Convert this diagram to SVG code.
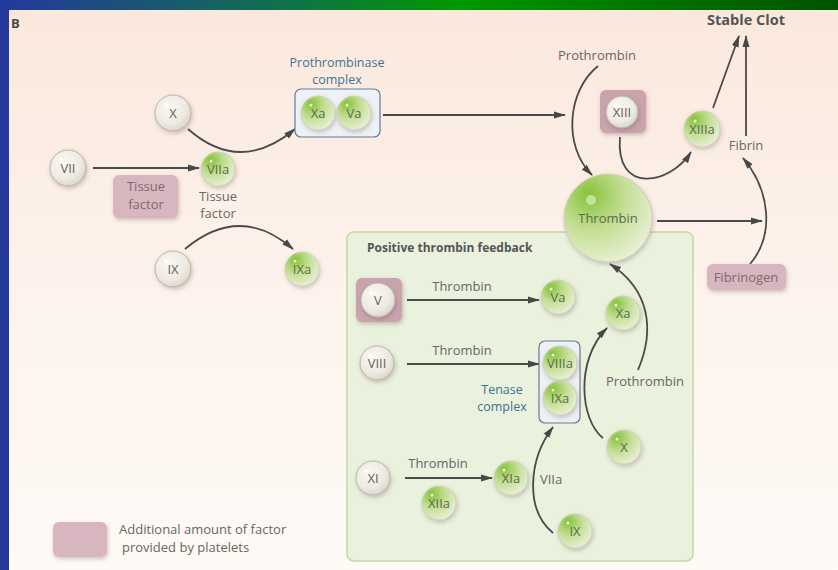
<svg xmlns="http://www.w3.org/2000/svg" width="838" height="570" viewBox="0 0 838 570">
<defs>
<linearGradient id="topbar" x1="0" y1="0" x2="1" y2="0">
<stop offset="0" stop-color="#24399b"/>
<stop offset="0.3" stop-color="#136a58"/>
<stop offset="0.55" stop-color="#009800"/>
<stop offset="0.8" stop-color="#007000"/>
<stop offset="1" stop-color="#005300"/>
</linearGradient>
<linearGradient id="panel" x1="0" y1="0" x2="0" y2="1">
<stop offset="0" stop-color="#fbe8dd"/>
<stop offset="0.5" stop-color="#fdf3ec"/>
<stop offset="1" stop-color="#fefaf6"/>
</linearGradient>
<radialGradient id="gray" cx="0.4" cy="0.35" r="0.7">
<stop offset="0" stop-color="#faf8f4"/>
<stop offset="0.65" stop-color="#eeeae2"/>
<stop offset="1" stop-color="#d8d2c7"/>
</radialGradient>
<radialGradient id="green" cx="0.35" cy="0.3" r="0.85" fx="0.28" fy="0.22">
<stop offset="0" stop-color="#86c23a"/>
<stop offset="0.45" stop-color="#c3de94"/>
<stop offset="1" stop-color="#f2f5e4"/>
</radialGradient>
<filter id="sh" x="-30%" y="-30%" width="160%" height="160%">
<feDropShadow dx="1" dy="2" stdDeviation="2" flood-color="#5a4a40" flood-opacity="0.3"/>
</filter>
<marker id="ah" viewBox="0 0 12 8" refX="11" refY="4" markerWidth="12" markerHeight="8" markerUnits="userSpaceOnUse" orient="auto">
<path d="M0,0.5 L12,4 L0,7.5 Z" fill="#474747"/>
</marker>
<style>
text{font-family:"Open Sans","Noto Sans",sans-serif;}
.g{fill:url(#gray);stroke:#b9b3a9;stroke-width:1;filter:url(#sh);}
.gr{fill:url(#green);stroke:#cfcfbf;stroke-width:1;filter:url(#sh);}
.hl{fill:#ffffff;opacity:0.85;}
.ct{font-size:13px;fill:#666058;text-anchor:middle;}
.cgt{font-size:13px;fill:#5c6a4c;text-anchor:middle;}
.lbl{font-size:13px;fill:#6a6664;text-anchor:middle;}
.blue{font-size:12.5px;fill:#3f7392;text-anchor:middle;}
.pink{fill:#d8b6bf;filter:url(#sh);}
.pinkd{fill:#c9a4ae;filter:url(#sh);}
.pt{font-size:13px;fill:#7b6c70;text-anchor:middle;}
.arr{fill:none;stroke:#4a4a4a;stroke-width:1.8;marker-end:url(#ah);}
.cplx{fill:#eef2f6;stroke:#5f7d99;stroke-width:1.2;}
</style>
</defs>

<rect x="0" y="0" width="838" height="570" fill="#24399b"/>
<rect x="0" y="0" width="838" height="10" fill="url(#topbar)"/>
<rect x="9" y="10" width="829" height="560" fill="url(#panel)"/>

<text x="11" y="28" font-size="13" font-weight="bold" fill="#4a4a4a">B</text>
<text x="746" y="25" font-size="14.5" font-weight="bold" fill="#555" text-anchor="middle">Stable Clot</text>

<!-- feedback box -->
<g id="feedback-box">
<rect x="347" y="232" width="346" height="329" rx="7" fill="#eaf1dd" stroke="#c4da9e" stroke-width="1.5"/>
<text x="367" y="252" font-size="12" font-weight="bold" fill="#555">Positive thrombin feedback</text>
</g>

<!-- connectors -->
<g id="connectors">
<path class="arr" d="M188,129 Q240,175 295,129"/>
<path class="arr" d="M93,168 L199,168"/>
<path class="arr" d="M185,249 Q240,203 293,249"/>
<path class="arr" d="M383,115 L565,115"/>
<path class="arr" d="M598,66 C568,90 562,145 592,175"/>
<path class="arr" d="M620,137 C615,195 670,185 691,152"/>
<path class="arr" d="M713,108 L739,36"/>
<path class="arr" d="M746,136 L746,36"/>
<path class="arr" d="M657,221 L762,221"/>
<path class="arr" d="M750,264 C775,235 770,190 743,158"/>
<path class="arr" d="M407,300 L539,300"/>
<path class="arr" d="M407,364 L539,364"/>
<path class="arr" d="M405,478 L492,478"/>
<path class="arr" d="M603,438 C580,420 575,360 607,328"/>
<path class="arr" d="M638,370 C655,330 650,290 610,264"/>
<path class="arr" d="M553,533 C525,510 528,460 553,427"/>
</g>

<!-- labels -->
<g id="labels">
<text class="blue" x="337" y="66.5">Prothrombinase</text>
<text class="blue" x="337" y="84">complex</text>
<text class="lbl" x="218" y="200.5" font-size="12">Tissue</text>
<text class="lbl" x="218" y="217.5" font-size="12">factor</text>
<text class="lbl" x="597" y="60">Prothrombin</text>
<text class="lbl" x="746" y="150">Fibrin</text>
<text class="lbl" x="462" y="291">Thrombin</text>
<text class="lbl" x="462" y="355">Thrombin</text>
<text class="lbl" x="438" y="468">Thrombin</text>
<text class="blue" x="502" y="394" font-size="12">Tenase</text>
<text class="blue" x="502" y="411" font-size="12">complex</text>
<text class="lbl" x="645" y="386">Prothrombin</text>
<text class="lbl" x="551" y="484">VIIa</text>
</g>

<g id="node-X"><circle class="g" cx="173" cy="113" r="18"/><circle class="hl" cx="166" cy="105" r="2"/><text class="ct" x="173" y="117.5">X</text></g>
<g id="node-VII"><circle class="g" cx="68" cy="168" r="18"/><circle class="hl" cx="61" cy="160" r="2"/><text class="ct" x="68" y="172.5">VII</text></g>
<g id="node-VIIa"><circle class="gr" cx="218" cy="169" r="17"/><circle class="hl" cx="211" cy="161" r="1.5"/><text class="cgt" x="218" y="173.5">VIIa</text></g>
<g id="node-tissue-factor"><rect class="pink" x="113" y="175" width="65" height="43" rx="6"/><text class="pt" x="146" y="191">Tissue</text><text class="pt" x="146" y="208.7">factor</text></g>
<g id="node-IX"><circle class="g" cx="173" cy="269" r="18"/><circle class="hl" cx="166" cy="261" r="2"/><text class="ct" x="173" y="273.5">IX</text></g>
<g id="node-IXa"><circle class="gr" cx="302" cy="269" r="17"/><circle class="hl" cx="295" cy="261" r="1.5"/><text class="cgt" x="302" y="273.5">IXa</text></g>

<g id="node-prothrombinase">
<rect class="cplx" x="295" y="89" width="85" height="48" rx="6"/>
<circle class="gr" cx="318" cy="113" r="17"/><circle class="hl" cx="311" cy="105" r="1.5"/><text class="cgt" x="318" y="117.5">Xa</text>
<circle class="gr" cx="354" cy="113" r="17"/><circle class="hl" cx="347" cy="105" r="1.5"/><text class="cgt" x="354" y="117.5">Va</text>
</g>

<g id="node-XIII"><rect class="pinkd" x="600" y="90" width="46" height="43" rx="6"/><circle class="g" cx="622" cy="112" r="16"/><circle class="hl" cx="616" cy="105" r="2"/><text class="ct" x="622" y="116.5">XIII</text></g>
<g id="node-XIIIa"><circle class="gr" cx="702" cy="129" r="18"/><circle class="hl" cx="695" cy="121" r="1.5"/><text class="cgt" x="702" y="133.5">XIIIa</text></g>
<g id="node-thrombin"><circle class="gr" cx="608" cy="218" r="44"/><circle cx="591" cy="200" r="5" fill="#d8ecbe" opacity="0.7"/><text class="cgt" x="608" y="223" font-size="14">Thrombin</text></g>
<g id="node-fibrinogen"><rect class="pink" x="707" y="264" width="79" height="26" rx="6"/><text class="pt" x="746" y="281.5">Fibrinogen</text></g>

<g id="node-V"><rect class="pinkd" x="356" y="278" width="46" height="44" rx="6"/><circle class="g" cx="378" cy="300" r="17"/><circle class="hl" cx="371" cy="293" r="2"/><text class="ct" x="378" y="304.5">V</text></g>
<g id="node-Va"><circle class="gr" cx="558" cy="297" r="17"/><circle class="hl" cx="551" cy="289" r="1.5"/><text class="cgt" x="558" y="301.5">Va</text></g>
<g id="node-Xa"><circle class="gr" cx="623" cy="313" r="17"/><circle class="hl" cx="616" cy="305" r="1.5"/><text class="cgt" x="623" y="317.5">Xa</text></g>
<g id="node-VIII"><circle class="g" cx="377" cy="363" r="17"/><circle class="hl" cx="370" cy="356" r="2"/><text class="ct" x="377" y="367.5">VIII</text></g>
<g id="node-tenase">
<rect class="cplx" x="539" y="341" width="41" height="82" rx="6"/>
<circle class="gr" cx="560" cy="363" r="17"/><circle class="hl" cx="553" cy="355" r="1.5"/><text class="cgt" x="560" y="367.5">VIIIa</text>
<circle class="gr" cx="560" cy="398" r="17"/><circle class="hl" cx="553" cy="390" r="1.5"/><text class="cgt" x="560" y="402.5">IXa</text>
</g>
<g id="node-X2"><circle class="gr" cx="624" cy="447" r="17"/><circle class="hl" cx="617" cy="439" r="1.5"/><text class="cgt" x="624" y="451.5">X</text></g>
<g id="node-XI"><circle class="g" cx="373" cy="478" r="17"/><circle class="hl" cx="366" cy="471" r="2"/><text class="ct" x="373" y="482.5">XI</text></g>
<g id="node-XIIa"><circle class="gr" cx="439" cy="503" r="17"/><circle class="hl" cx="432" cy="495" r="1.5"/><text class="cgt" x="439" y="507.5">XIIa</text></g>
<g id="node-XIa"><circle class="gr" cx="511" cy="478" r="17"/><circle class="hl" cx="504" cy="470" r="1.5"/><text class="cgt" x="511" y="482.5">XIa</text></g>
<g id="node-IX2"><circle class="gr" cx="575" cy="531" r="17"/><circle class="hl" cx="568" cy="523" r="1.5"/><text class="cgt" x="575" y="535.5">IX</text></g>

<g id="legend">
<rect class="pink" x="53" y="522" width="54" height="35" rx="6"/>
<text x="119" y="534" font-size="13" fill="#6a6664">Additional amount of factor</text>
<text x="122" y="552" font-size="13" fill="#6a6664">provided by platelets</text>
</g>
</svg>
